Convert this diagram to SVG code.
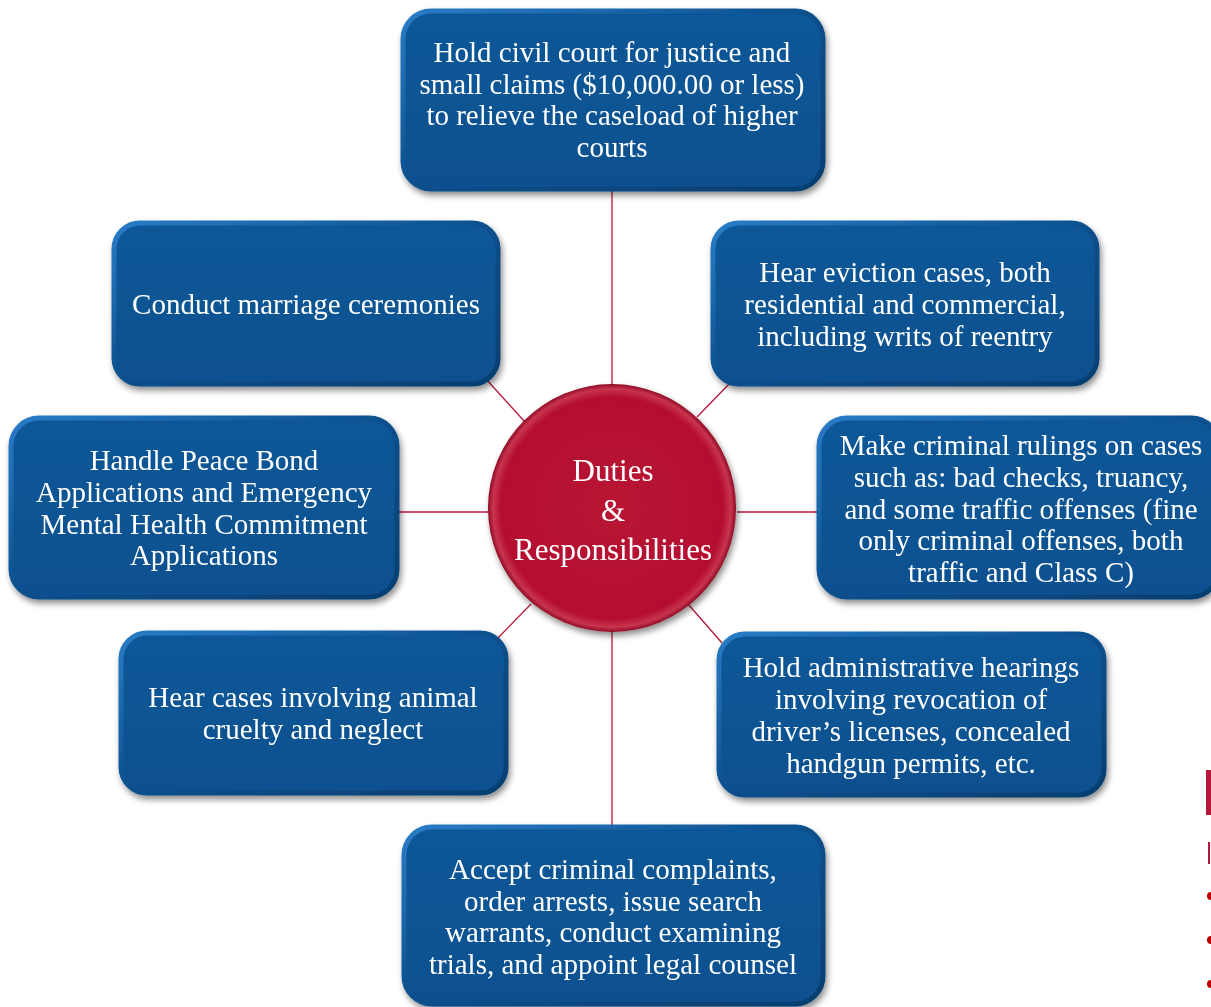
<svg xmlns="http://www.w3.org/2000/svg" width="1211" height="1007" viewBox="0 0 1211 1007">
<defs>
<linearGradient id="boxFill" x1="0" y1="0" x2="0" y2="1">
<stop offset="0" stop-color="#0c5798"/>
<stop offset="0.5" stop-color="#0a5493"/>
<stop offset="1" stop-color="#095090"/>
</linearGradient>
<linearGradient id="boxRim" x1="0" y1="0" x2="1" y2="1">
<stop offset="0" stop-color="#2a7cc6"/>
<stop offset="0.5" stop-color="#0a4f8c"/>
<stop offset="1" stop-color="#063e70"/>
</linearGradient>
<radialGradient id="circFill" cx="0.5" cy="0.5" r="0.5">
<stop offset="0" stop-color="#b81232"/>
<stop offset="0.9" stop-color="#b51131"/>
<stop offset="0.96" stop-color="#c9344f"/>
<stop offset="1" stop-color="#8e0c25"/>
</radialGradient>
<filter id="shadow" x="-10%" y="-10%" width="125%" height="130%">
<feGaussianBlur in="SourceAlpha" stdDeviation="3"/>
<feOffset dx="2" dy="4" result="b"/>
<feComponentTransfer><feFuncA type="linear" slope="0.45"/></feComponentTransfer>
<feMerge><feMergeNode/><feMergeNode in="SourceGraphic"/></feMerge>
</filter>
<style>
.box rect.b { fill: url(#boxFill); stroke: url(#boxRim); stroke-width: 5; }
.box text, .hub text { fill: #ffffff; font-family: "Liberation Serif", "Times New Roman", serif; font-size: 29px; text-anchor: middle; }
.hub text { font-size: 31px; }
.conn line { stroke: #b5173a; stroke-width: 1.3; }
</style>
</defs>
<rect width="1211" height="1007" fill="#ffffff"/>

<g id="connectors" class="conn">
<line x1="612" y1="190" x2="612" y2="384"/>
<line x1="612" y1="632" x2="612" y2="826"/>
<line x1="397" y1="512" x2="489" y2="512"/>
<line x1="737" y1="512" x2="818" y2="512"/>
<line x1="486" y1="379" x2="525" y2="422"/>
<line x1="697" y1="417" x2="731" y2="382"/>
<line x1="497" y1="639" x2="531" y2="604"/>
<line x1="688" y1="604" x2="722" y2="643"/>
</g>

<g id="node-top" class="box" filter="url(#shadow)">
<rect class="b" x="403" y="11" width="420" height="178" rx="28"/>
<text x="612" y="62">Hold civil court for justice and</text>
<text x="612" y="94">small claims ($10,000.00 or less)</text>
<text x="612" y="125">to relieve the caseload of higher</text>
<text x="612" y="157">courts</text>
</g>

<g id="node-marriage" class="box" filter="url(#shadow)">
<rect class="b" x="114" y="223" width="384" height="161" rx="26"/>
<text x="306" y="314">Conduct marriage ceremonies</text>
</g>

<g id="node-eviction" class="box" filter="url(#shadow)">
<rect class="b" x="713" y="223" width="384" height="161" rx="26"/>
<text x="905" y="282">Hear eviction cases, both</text>
<text x="905" y="314">residential and commercial,</text>
<text x="905" y="346">including writs of reentry</text>
</g>

<g id="node-peace" class="box" filter="url(#shadow)">
<rect class="b" x="11" y="418" width="386" height="179" rx="28"/>
<text x="204" y="470">Handle Peace Bond</text>
<text x="204" y="502">Applications and Emergency</text>
<text x="204" y="534">Mental Health Commitment</text>
<text x="204" y="565">Applications</text>
</g>

<g id="node-criminal-rulings" class="box" filter="url(#shadow)">
<rect class="b" x="819" y="418" width="400" height="179" rx="28"/>
<text x="1021" y="455">Make criminal rulings on cases</text>
<text x="1021" y="487">such as: bad checks, truancy,</text>
<text x="1021" y="519">and some traffic offenses (fine</text>
<text x="1021" y="550">only criminal offenses, both</text>
<text x="1021" y="582">traffic and Class C)</text>
</g>

<g id="node-animal" class="box" filter="url(#shadow)">
<rect class="b" x="121" y="633" width="385" height="160" rx="26"/>
<text x="313" y="707">Hear cases involving animal</text>
<text x="313" y="739">cruelty and neglect</text>
</g>

<g id="node-admin" class="box" filter="url(#shadow)">
<rect class="b" x="719" y="634" width="385" height="161" rx="26"/>
<text x="911" y="677">Hold administrative hearings</text>
<text x="911" y="709">involving revocation of</text>
<text x="911" y="741">driver’s licenses, concealed</text>
<text x="911" y="773">handgun permits, etc.</text>
</g>

<g id="node-bottom" class="box" filter="url(#shadow)">
<rect class="b" x="404" y="827" width="419" height="177" rx="28"/>
<text x="613" y="879">Accept criminal complaints,</text>
<text x="613" y="911">order arrests, issue search</text>
<text x="613" y="942">warrants, conduct examining</text>
<text x="613" y="974">trials, and appoint legal counsel</text>
</g>

<g id="hub" class="hub" filter="url(#shadow)">
<circle cx="612" cy="508" r="124" fill="url(#circFill)"/>
<text x="613" y="481">Duties</text>
<text x="613" y="521">&amp;</text>
<text x="613" y="560">Responsibilities</text>
</g>

<g id="edge-fragment">
<rect x="1206" y="770" width="5" height="45" fill="#b5173a"/>
<rect x="1208" y="842" width="2" height="22" fill="#b5173a"/>
<circle cx="1211" cy="896" r="4" fill="#c00000"/>
<circle cx="1211" cy="940" r="4" fill="#c00000"/>
<circle cx="1211" cy="984" r="4" fill="#c00000"/>
</g>
</svg>
